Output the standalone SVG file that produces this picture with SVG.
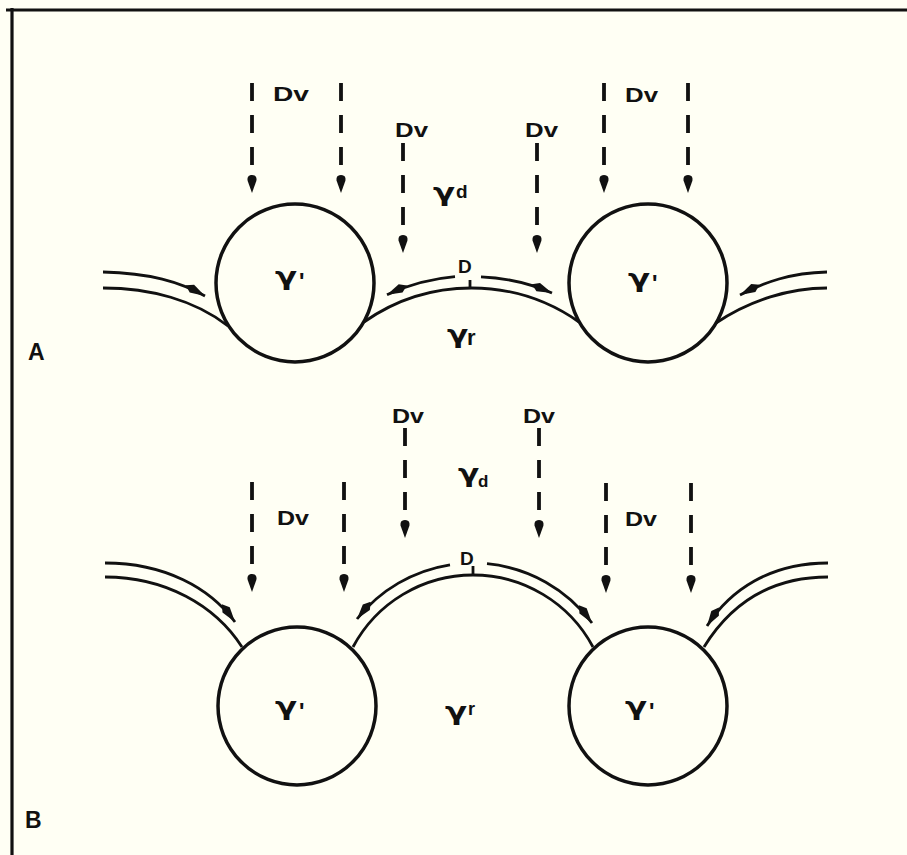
<svg xmlns="http://www.w3.org/2000/svg" width="907" height="855" viewBox="0 0 907 855">
<defs>
<style>
.bg{fill:#FFFFF4}
.fr{fill:none;stroke:#111;stroke-width:3.2}
.ln{fill:none;stroke:#111;stroke-width:2.8}
.circ{fill:none;stroke:#111;stroke-width:3.5}
.dash{fill:none;stroke:#111;stroke-width:3.8;stroke-dasharray:18 14}
.t{font-family:"Liberation Sans",Arial,sans-serif;font-weight:bold;fill:#111}
.gg{font-family:"DejaVu Sans","Liberation Sans",sans-serif;font-weight:bold;fill:#111;font-size:24px}
.dv{font-size:21px}
.g{font-size:23px}
.lab{font-size:23px}
</style>
<marker id="ah" viewBox="0 -5 24 10" refX="22" refY="0" markerWidth="24" markerHeight="10" markerUnits="userSpaceOnUse" orient="auto">
<path d="M0,0 L7,-4.5 L22,0 L7,4.5 Z" fill="#111"/>
</marker>
<marker id="dh" viewBox="0 -5 20 10" refX="0" refY="0" markerWidth="20" markerHeight="10" markerUnits="userSpaceOnUse" orient="auto">
<path d="M0,0 C0,-4.8 4,-4.8 6,-4.3 L18,0 L6,4.3 C4,4.8 0,4.8 0,0 Z" fill="#111"/>
</marker>
</defs>
<rect class="bg" x="0" y="0" width="907" height="855"/>
<path class="fr" d="M6,10 H907 M12,8 V855"/>

<g id="connectors">
<path class="ln" d="M103,288 C150,288 195,300 228,326"/>
<path class="ln" d="M364,322 A187,187 0 0 1 579,322"/>
<path class="ln" d="M716,323 C750,300 790,288 827,288"/>
<path class="ln" marker-end="url(#ah)" d="M103,272 C150,273 180,282 205,296"/>
<path class="ln" marker-end="url(#ah)" d="M455,276.7 A199,199 0 0 0 387,294.8"/>
<path class="ln" marker-end="url(#ah)" d="M481,276.8 A199,199 0 0 1 552,293"/>
<path class="ln" marker-end="url(#ah)" d="M827,272 C790,273 765,282 740,295"/>
<path class="ln" d="M470,280 V288"/>
<path class="dash" marker-end="url(#dh)" d="M252,83 V175"/>
<path class="dash" marker-end="url(#dh)" d="M341,83 V175"/>
<path class="dash" marker-end="url(#dh)" d="M403,143 V235"/>
<path class="dash" marker-end="url(#dh)" d="M537,143 V235"/>
<path class="dash" marker-end="url(#dh)" d="M604,83 V175"/>
<path class="dash" marker-end="url(#dh)" d="M688,83 V175"/>

<path class="ln" d="M105,577 C165,577 215,605 242,647"/>
<path class="ln" d="M353,647 A136,136 0 0 1 593,647"/>
<path class="ln" d="M828,577 C768,577 730,605 704,647"/>
<path class="ln" marker-end="url(#ah)" d="M105,563 C165,563 210,588 235,622"/>
<path class="ln" marker-end="url(#ah)" d="M450,564.8 A148,148 0 0 0 357,619"/>
<path class="ln" marker-end="url(#ah)" d="M487,563.7 A148,148 0 0 1 592,623"/>
<path class="ln" marker-end="url(#ah)" d="M828,563 C770,563 730,590 707,626"/>
<path class="ln" d="M473,566 V575"/>
<path class="dash" marker-end="url(#dh)" d="M252,482 V574"/>
<path class="dash" marker-end="url(#dh)" d="M344,482 V574"/>
<path class="dash" marker-end="url(#dh)" d="M405,428 V520"/>
<path class="dash" marker-end="url(#dh)" d="M539,428 V520"/>
<path class="dash" marker-end="url(#dh)" d="M606,483 V575"/>
<path class="dash" marker-end="url(#dh)" d="M691,483 V575"/>
</g>

<g id="A-left-drop">
<circle class="circ" cx="295" cy="283" r="79"/>
<text class="gg" transform="translate(275,285) scale(1.35,1)">γ</text>
<text class="t g" x="299" y="290">'</text>
</g>
<g id="A-right-drop">
<circle class="circ" cx="648" cy="283" r="79"/>
<text class="gg" transform="translate(628,287) scale(1.35,1)">γ</text>
<text class="t g" x="652" y="292">'</text>
</g>
<g id="B-left-drop">
<circle class="circ" cx="297" cy="706" r="79"/>
<text class="gg" transform="translate(275,715) scale(1.35,1)">γ</text>
<text class="t g" x="299" y="720">'</text>
</g>
<g id="B-right-drop">
<circle class="circ" cx="648" cy="706" r="79"/>
<text class="gg" transform="translate(625,715) scale(1.35,1)">γ</text>
<text class="t g" x="649" y="720">'</text>
</g>

<g id="A-labels">
<text class="t dv" x="273" y="101" textLength="36" lengthAdjust="spacingAndGlyphs">Dv</text>
<text class="t dv" x="395" y="137" textLength="33" lengthAdjust="spacingAndGlyphs">Dv</text>
<text class="t dv" x="525" y="137" textLength="33" lengthAdjust="spacingAndGlyphs">Dv</text>
<text class="t dv" x="625" y="102" textLength="33" lengthAdjust="spacingAndGlyphs">Dv</text>
<text class="t" x="458" y="273" font-size="19">D</text>
<text class="gg" transform="translate(433,201) scale(1.35,1)">γ</text>
<text class="t" x="456" y="198" font-size="19">d</text>
<text class="gg" transform="translate(447,343) scale(1.3,1)">γ</text>
<text class="t" x="467" y="345" font-size="22">r</text>
<text class="t lab" x="28" y="360">A</text>
</g>

<g id="B-labels">
<text class="t dv" x="392" y="423" textLength="32" lengthAdjust="spacingAndGlyphs">Dv</text>
<text class="t dv" x="277" y="525" textLength="32" lengthAdjust="spacingAndGlyphs">Dv</text>
<text class="t dv" x="523" y="423" textLength="32" lengthAdjust="spacingAndGlyphs">Dv</text>
<text class="t dv" x="625" y="526" textLength="32" lengthAdjust="spacingAndGlyphs">Dv</text>
<text class="t" x="460" y="565" font-size="19">D</text>
<text class="gg" transform="translate(458,482) scale(1.3,1)">γ</text>
<text class="t" x="478" y="487" font-size="17">d</text>
<text class="gg" transform="translate(445,720) scale(1.35,1)">γ</text>
<text class="t" x="468" y="715" font-size="18">r</text>
<text class="t lab" x="25" y="828">B</text>
</g>
</svg>
